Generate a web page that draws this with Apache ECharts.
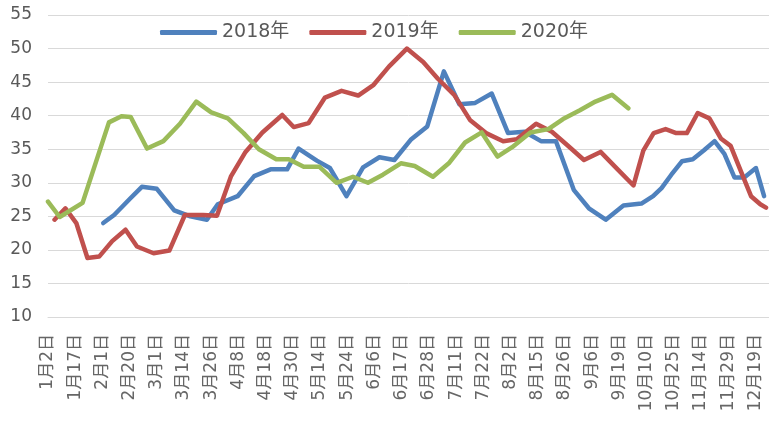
<!DOCTYPE html>
<html>
<head>
<meta charset="utf-8">
<script src="https://cdn.jsdelivr.net/npm/echarts@6/dist/echarts.min.js"></script>
<style>
html,body{margin:0;padding:0;background:#fff;overflow:hidden;}
#chart{width:769px;height:421px;}
</style>
</head>
<body>
<div id="chart"></div>
<script>
// Tick labels of the category axis (label k sits at position k)
const xLabels = ['1月2日','1月17日','2月1日','2月20日','3月1日','3月14日','3月26日','4月8日','4月18日','4月30日','5月14日','5月24日','6月6日','6月17日','6月28日','7月11日','7月22日','8月2日','8月15日','8月26日','9月6日','9月19日','10月10日','10月25日','11月14日','11月29日','12月19日'];
const seriesNames = ['2018年','2019年','2020年'];

// Positions along the axis (in label slots) and values
const pos2018 = [2.03,2.43,3.03,3.45,4.00,4.64,5.23,5.84,6.24,6.97,7.58,8.18,8.79,9.21,9.88,10.36,10.97,11.58,12.18,12.73,13.33,13.94,14.55,15.12,15.70,16.31,16.91,17.52,18.12,18.67,19.33,19.88,20.50,21.15,21.81,22.24,22.55,22.91,23.30,23.70,24.10,24.50,24.86,25.23,25.59,26.02,26.32];
const val2018 = [24.0,25.2,27.7,29.4,29.1,25.9,25.0,24.5,26.8,28.0,31.0,32.0,32.0,35.1,33.3,32.2,28.0,32.3,33.8,33.4,36.4,38.4,46.6,41.7,41.9,43.3,37.4,37.6,36.2,36.2,28.9,26.2,24.5,26.6,26.9,28.0,29.2,31.2,33.2,33.5,34.8,36.2,34.3,30.8,30.8,32.2,28.0];

const pos2019 = [0.24,0.64,1.04,1.45,1.88,2.36,2.85,3.27,3.88,4.46,5.03,5.70,6.21,6.73,7.26,7.88,8.61,9.03,9.58,10.18,10.79,11.40,11.97,12.53,13.19,13.79,14.33,14.93,15.52,16.10,16.73,17.23,17.94,18.52,19.09,19.70,20.31,20.91,21.52,21.88,22.26,22.70,23.09,23.48,23.88,24.31,24.73,25.09,25.48,25.84,26.18,26.39];
const val2019 = [24.5,26.2,24.0,18.8,19.0,21.3,23.0,20.5,19.5,19.9,25.2,25.2,25.1,31.0,34.6,37.5,40.1,38.3,38.9,42.7,43.7,43.0,44.6,47.3,50.0,48.0,45.5,43.1,39.3,37.4,36.2,36.5,38.8,37.6,35.6,33.4,34.6,32.1,29.6,34.8,37.4,38.0,37.4,37.4,40.4,39.6,36.6,35.5,31.6,28.0,26.8,26.3];

const pos2020 = [0.00,0.43,1.27,2.24,2.70,3.04,3.64,4.24,4.85,5.45,6.00,6.61,7.19,7.75,8.39,8.85,9.40,9.97,10.61,11.21,11.76,12.31,12.97,13.48,14.15,14.73,15.33,15.94,16.52,17.06,17.73,18.39,18.93,19.55,20.12,20.73,21.33];
const val2020 = [27.2,24.9,27.0,39.0,39.9,39.8,35.1,36.2,38.8,42.1,40.5,39.6,37.4,35.0,33.5,33.5,32.4,32.4,30.0,30.9,30.0,31.2,32.9,32.5,30.9,32.9,36.0,37.5,33.9,35.3,37.5,38.0,39.5,40.8,42.1,43.1,41.1];

const yTicks = {min: 10, max: 55, interval: 5};
const colors = ['#4F81BD','#C0504D','#9BBB59'];

function zip(p, v){ return p.map((x,i)=>[x, v[i]]); }
const allData = [zip(pos2018,val2018), zip(pos2019,val2019), zip(pos2020,val2020)];

const textFont = '"DejaVu Sans", "Noto Sans CJK SC", sans-serif';
const chart = echarts.init(document.getElementById('chart'));
chart.setOption({
  animation: false,
  color: colors,
  grid: {left: 48, right: -8, top: 15, bottom: 104, containLabel: false},
  legend: {
    data: seriesNames,
    left: 155, top: 18,
    icon: 'roundRect',
    itemWidth: 57, itemHeight: 5, itemGap: 20,
    textStyle: {fontSize: 19, color: '#595959', fontFamily: textFont}
  },
  xAxis: {
    type: 'value', min: 0, max: 26.5, interval: 1,
    axisLine: {show: true, lineStyle: {color: '#d9d9d9'}},
    axisTick: {show: false},
    splitLine: {show: false},
    axisLabel: {
      rotate: 90, margin: 17, fontSize: 17, color: '#666666', fontFamily: textFont,
      showMaxLabel: false,
      formatter: v => (Number.isInteger(v) && xLabels[v] !== undefined) ? xLabels[v] : ''
    }
  },
  yAxis: {
    type: 'value', min: yTicks.min, max: yTicks.max, interval: yTicks.interval,
    axisLine: {show: false}, axisTick: {show: false},
    splitLine: {lineStyle: {color: '#d9d9d9', width: 1}},
    axisLabel: {fontSize: 17, color: '#595959', margin: 16, fontFamily: textFont}
  },
  series: seriesNames.map((n,i)=>({
    name: n, type: 'line', data: allData[i],
    showSymbol: false, symbol: 'none',
    lineStyle: {width: 4.5, color: colors[i], cap: 'round', join: 'round'},
    itemStyle: {color: colors[i]}
  }))
});
</script>
</body>
</html>
